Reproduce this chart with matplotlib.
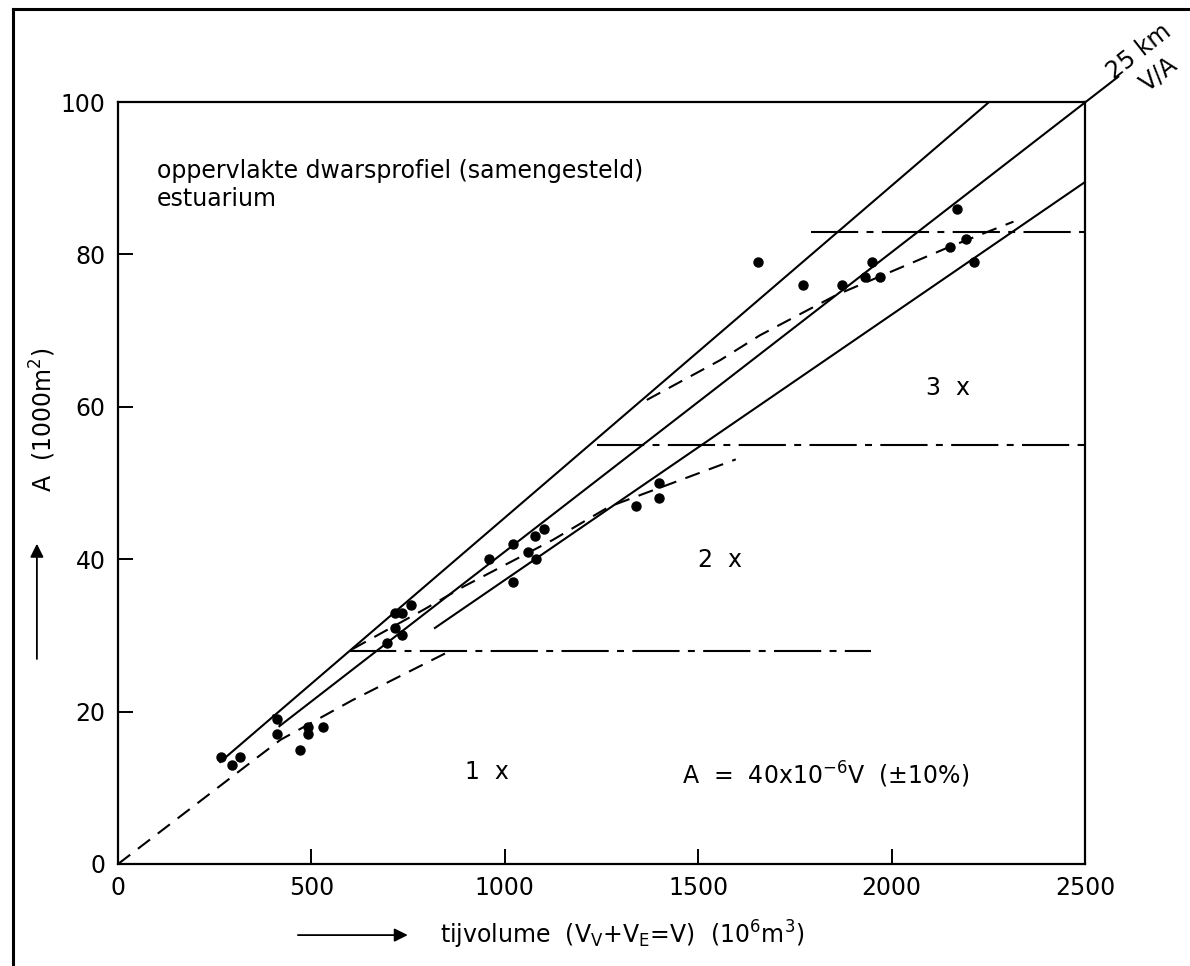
import matplotlib
matplotlib.use("Agg")
import matplotlib.pyplot as plt
from matplotlib.lines import Line2D
from matplotlib.patches import FancyArrowPatch

plt.rcParams["font.family"] = ["DejaVu Sans"]
plt.rcParams["lines.scale_dashes"] = False

# measured estuary cross-sections: tidal volume (10^6 m3) vs area (1000 m2)
volume = [265, 295, 315, 410, 410, 470, 490, 490, 530,
          695, 715, 715, 735, 735, 757,
          960, 1020, 1020, 1060, 1078, 1080, 1100,
          1338, 1398, 1398,
          1655, 1772, 1872, 1930, 1950, 1970, 2150, 2170, 2192, 2212]
area = [14, 13, 14, 19, 17, 15, 18, 17, 18,
        29, 31, 33, 30, 33, 34,
        40, 42, 37, 41, 43, 40, 44,
        47, 50, 48,
        79, 76, 76, 77, 79, 77, 81, 86, 82, 79]

# A = 40e-6 V band (+/- 10 %), drawn segments
upper_v = [262, 2252]
upper_a = [13.3, 100]
mid_v = [415, 2588]
mid_a = [18.0, 103.4]
low_v = [817, 2500]
low_a = [30.9, 89.5]
cap_v = [400, 421]
cap_a = [19.6, 18.2]

# limits between the 1x / 2x / 3x regimes
bound_a = [28, 55, 83]
bound_start = [597, 1239, 1792]
bound_end = [1946, 2500, 2500]

# trend curves per regime
curve1_v = [0, 350, 420, 606, 684, 860]
curve1_a = [0, 13.6, 16.3, 21.5, 23.5, 28.0]
curve2_v = [606, 791, 893, 1123, 1270, 1597]
curve2_a = [28.2, 33.4, 36.4, 42.5, 46.9, 53.1]
curve3_v = [1367, 1556, 1660, 1858, 2150, 2315]
curve3_a = [60.9, 66.1, 69.4, 74.7, 81.0, 84.3]

x_ticks = [0, 500, 1000, 1500, 2000, 2500]
y_ticks = [0, 20, 40, 60, 80, 100]

fig = plt.figure(figsize=(11.9, 9.66), dpi=100)
ax = fig.add_axes([0.0992, 0.1056, 0.8126, 0.7888])

lw = 1.5
for v, a in [(upper_v, upper_a), (mid_v, mid_a), (low_v, low_a), (cap_v, cap_a)]:
    ax.plot(v, a, color="black", lw=lw, clip_on=False, solid_capstyle="butt")

for a, v0, v1 in zip(bound_a, bound_start, bound_end):
    ax.plot([v0, v1], [a, a], color="black", lw=lw,
            dashes=(34, 6, 5, 6))

for v, a in [(curve1_v, curve1_a), (curve2_v, curve2_a), (curve3_v, curve3_a)]:
    ax.plot(v, a, color="black", lw=lw, dashes=(11, 7))

ax.plot(volume, area, "o", color="black", ms=6.5, zorder=5)

ax.set_xlim(0, 2500)
ax.set_ylim(0, 100)
ax.set_xticks(x_ticks)
ax.set_yticks(y_ticks)
for s in ax.spines.values():
    s.set_linewidth(1.6)
ax.tick_params(direction="in", length=11, width=1.4, labelsize=17, pad=9)

fs = 17
ax.text(100, 91, "oppervlakte dwarsprofiel (samengesteld)", fontsize=fs,
        va="center", ha="left")
ax.text(100, 87.3, "estuarium", fontsize=fs, va="center", ha="left")
ax.text(2146, 62.5, "3  x", fontsize=fs, ha="center", va="center")
ax.text(1556, 39.9, "2  x", fontsize=fs, ha="center", va="center")
ax.text(954, 12.1, "1  x", fontsize=fs, ha="center", va="center")
ax.text(1458, 11.7, r"A  =  40x10$^{-6}$V  (±10%)", fontsize=fs,
        ha="left", va="center")

# label at the end of the mean line
ax.text(2640, 106.6, "25 km", fontsize=fs, rotation=38, ha="center",
        va="center", clip_on=False)
ax.text(2690, 103.6, "V/A", fontsize=fs, rotation=38, ha="center",
        va="center", clip_on=False)

# axis titles with arrows
fig.text(0.036, 0.565, r"A  (1000m$^2$)", rotation=90, fontsize=fs,
         ha="center", va="center")
fig.add_artist(FancyArrowPatch(
    (0.031, 0.315), (0.031, 0.44), transform=fig.transFigure,
    arrowstyle="-|>", mutation_scale=20, lw=1.3, color="black"))
fig.text(0.37, 0.032, r"tijvolume  (V$_\mathrm{V}$+V$_\mathrm{E}$=V)  (10$^6$m$^3$)",
         fontsize=fs, ha="left", va="center")
fig.add_artist(FancyArrowPatch(
    (0.248, 0.032), (0.345, 0.032), transform=fig.transFigure,
    arrowstyle="-|>", mutation_scale=20, lw=1.3, color="black"))

# outer frame
fig.add_artist(Line2D([0.0107, 0.0107], [0.0, 0.9904], color="black", lw=2.2))
fig.add_artist(Line2D([0.0107, 1.0], [0.9904, 0.9904], color="black", lw=2.2))

fig.savefig("out.png", dpi=100)
